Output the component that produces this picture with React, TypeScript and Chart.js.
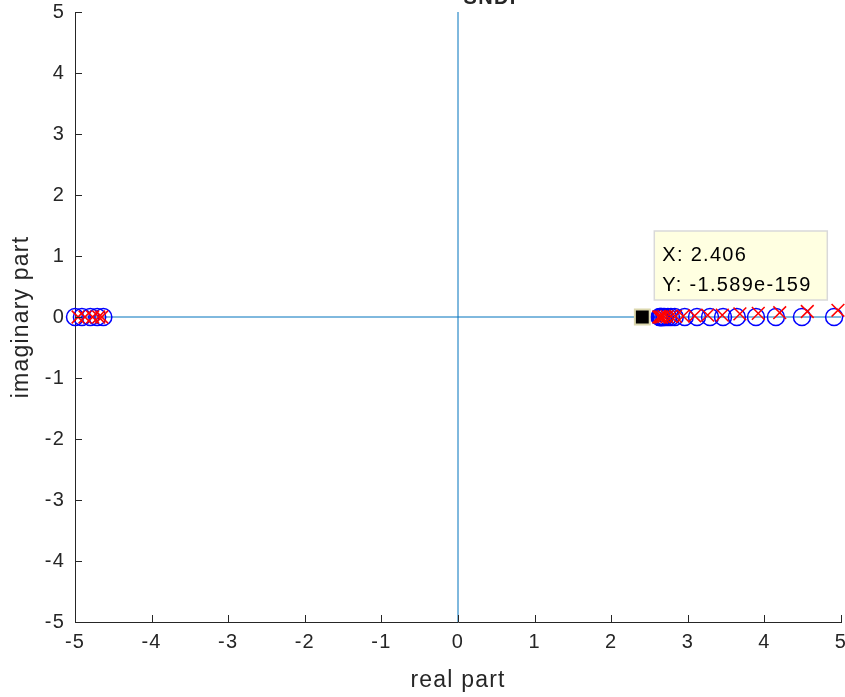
import { useEffect, useRef } from 'react';
import { Chart, registerables } from 'chart.js';

Chart.register(...registerables);

const xTicks = [-5, -4, -3, -2, -1, 0, 1, 2, 3, 4, 5];
const yTicks = [-5, -4, -3, -2, -1, 0, 1, 2, 3, 4, 5];

const zeroRe = [-5.0, -4.91, -4.8, -4.71, -4.63, 2.63, 2.64, 2.65, 2.66, 2.68, 2.7, 2.74, 2.78, 2.83, 2.96, 3.12, 3.29, 3.46, 3.64, 3.89, 4.15, 4.49, 4.91];
const zeroIm = [0, 0, 0, 0, 0, 0, 0, 0, 0, 0, 0, 0, 0, 0, 0, 0, 0, 0, 0, 0, 0, 0, 0];

const poleRe = [-4.96, -4.87, -4.77, -4.69, -4.65, 2.62, 2.64, 2.66, 2.69, 2.73, 2.78, 2.84, 2.94, 3.09, 3.26, 3.45, 3.68, 3.92, 4.2, 4.56, 4.96];
const poleIm = [0, 0, 0, 0, 0, 0, 0, 0, 0.005, 0.005, 0.01, 0.01, 0.015, 0.02, 0.03, 0.03, 0.05, 0.06, 0.07, 0.09, 0.11];

const realAxisX = [-5, 5];
const realAxisY = [0, 0];
const imagAxisX = [0, 0];
const imagAxisY = [-5, 5];

const tipX = 2.406;
const tipY = -1.589e-159;
const tipLabels = ['X: 2.406', 'Y: -1.589e-159'];
const titleText = 'SNDP';

const FONT = '"Liberation Sans", Arial, Helvetica, sans-serif';
const AXIS_COLOR = '#262626';
const LINE_BLUE = '#0072BD';

const decorPlugin = {
  id: 'matlabDecor',
  beforeDraw(chart: any) {
    chart.ctx.letterSpacing = '1.2px';
  },
  afterDraw(chart: any) {
    const ctx = chart.ctx;
    const xs = chart.scales.x;
    const ys = chart.scales.y;
    const area = chart.chartArea;
    ctx.save();
    ctx.strokeStyle = AXIS_COLOR;
    ctx.lineWidth = 1;
    ctx.beginPath();
    xTicks.forEach((v) => {
      const px = Math.round(xs.getPixelForValue(v)) + 0.5;
      ctx.moveTo(px, area.bottom);
      ctx.lineTo(px, area.bottom - 7);
    });
    yTicks.forEach((v) => {
      const py = Math.round(ys.getPixelForValue(v)) + 0.5;
      ctx.moveTo(area.left, py);
      ctx.lineTo(area.left + 7, py);
    });
    ctx.stroke();

    const px = xs.getPixelForValue(tipX);
    const py = ys.getPixelForValue(tipY);
    const bx = px + 12;
    const by = py - 86;
    const bw = 173;
    const bh = 69;
    ctx.fillStyle = '#FFFFE1';
    ctx.fillRect(bx, by, bw, bh);
    ctx.strokeStyle = '#D9D9D9';
    ctx.lineWidth = 1.5;
    ctx.strokeRect(bx, by, bw, bh);
    ctx.fillStyle = '#000000';
    ctx.letterSpacing = '1.3px';
    ctx.font = `20px ${FONT}`;
    ctx.textBaseline = 'middle';
    ctx.textAlign = 'left';
    ctx.fillText(tipLabels[0], bx + 8, by + 24);
    ctx.fillText(tipLabels[1], bx + 8, by + 54);

    ctx.font = `bold 20px ${FONT}`;
    ctx.textAlign = 'center';
    ctx.textBaseline = 'alphabetic';
    ctx.fillStyle = AXIS_COLOR;
    ctx.fillText(titleText, 494, 4);
    ctx.restore();
  },
};

export default function App() {
  const ref = useRef<HTMLCanvasElement>(null);

  useEffect(() => {
    if (!ref.current) return;
    const chart = new Chart(ref.current, {
      type: 'scatter',
      data: {
        datasets: [
          {
            label: 'real axis',
            data: realAxisX.map((x, i) => ({ x, y: realAxisY[i] })),
            showLine: true,
            borderColor: LINE_BLUE,
            borderWidth: 1,
            pointRadius: 0,
            order: 5,
          },
          {
            label: 'imag axis',
            data: imagAxisX.map((x, i) => ({ x, y: imagAxisY[i] })),
            showLine: true,
            borderColor: LINE_BLUE,
            borderWidth: 1,
            pointRadius: 0,
            order: 4,
          },
          {
            label: 'zeros',
            data: zeroRe.map((x, i) => ({ x, y: zeroIm[i] })),
            pointStyle: 'circle',
            pointRadius: 8.5,
            borderColor: '#0000FF',
            backgroundColor: 'rgba(0,0,0,0)',
            borderWidth: 1.5,
            clip: false as any,
            order: 3,
          },
          {
            label: 'poles',
            data: poleRe.map((x, i) => ({ x, y: poleIm[i] })),
            pointStyle: 'crossRot',
            pointRadius: 9,
            borderColor: '#FF0000',
            backgroundColor: '#FF0000',
            borderWidth: 1.5,
            clip: false as any,
            order: 2,
          },
          {
            label: 'tip',
            data: [{ x: tipX, y: tipY }],
            pointStyle: 'rect',
            pointRadius: 10.5,
            borderColor: '#DCD8AE',
            backgroundColor: '#000000',
            borderWidth: 2,
            clip: false as any,
            order: 1,
          },
        ],
      },
      options: {
        responsive: false,
        animation: false,
        events: [],
        layout: { autoPadding: false, padding: { left: 0, right: 4, top: 12, bottom: 0 } },
        plugins: {
          legend: { display: false },
          tooltip: { enabled: false },
          title: { display: false },
        },
        scales: {
          x: {
            type: 'linear',
            min: -5,
            max: 5,
            afterFit: (s: any) => { s.height = 75; s.paddingLeft = 0; s.paddingRight = 0; },
            afterBuildTicks: (s: any) => { s.ticks = xTicks.map((v) => ({ value: v })); },
            grid: { display: true, drawOnChartArea: false, drawTicks: false },
            border: { display: true, color: AXIS_COLOR, width: 1 },
            ticks: {
              color: AXIS_COLOR,
              font: { family: FONT, size: 20 },
              padding: 8,
              maxRotation: 0,
              autoSkip: false,
            },
            title: {
              display: true,
              text: 'real part',
              color: AXIS_COLOR,
              font: { family: FONT, size: 23 },
              padding: { top: 0, bottom: 3 },
            },
          },
          y: {
            type: 'linear',
            min: -5,
            max: 5,
            afterFit: (s: any) => { s.width = 75; s.paddingTop = 0; s.paddingBottom = 0; },
            afterBuildTicks: (s: any) => { s.ticks = yTicks.map((v) => ({ value: v })); },
            grid: { display: true, drawOnChartArea: false, drawTicks: false },
            border: { display: true, color: AXIS_COLOR, width: 1 },
            ticks: {
              color: AXIS_COLOR,
              font: { family: FONT, size: 20 },
              padding: 10,
              autoSkip: false,
            },
            title: {
              display: true,
              text: 'imaginary part',
              color: AXIS_COLOR,
              font: { family: FONT, size: 23 },
              padding: { top: 8, bottom: 0 },
            },
          },
        },
      },
      plugins: [decorPlugin],
    });
    return () => chart.destroy();
  }, []);

  return (
    <div style={{ position: 'absolute', left: 0, top: 0, width: 845, height: 697, background: '#fff' }}>
      <canvas ref={ref} width={845} height={697} />
    </div>
  );
}
